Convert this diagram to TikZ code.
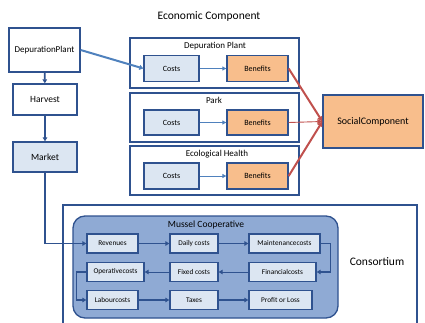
\documentclass[tikz,border=0pt]{standalone}
\usepackage{fontspec}
\setmainfont{Carlito}
\usetikzlibrary{arrows.meta}
\definecolor{bdr}{RGB}{47,82,143}
\definecolor{lfill}{RGB}{220,230,242}
\definecolor{ofill}{RGB}{248,190,140}
\definecolor{mfill}{RGB}{143,170,212}
\definecolor{redl}{RGB}{192,80,77}
\definecolor{bluel}{RGB}{79,129,189}
\tikzset{
  box/.style={draw=bdr, line width=1.3pt, inner sep=0pt, align=center, font=\fontsize{9.5}{10}\selectfont},
  grp/.style={draw=bdr, line width=1.3pt, inner sep=0pt},
  glabel/.style={font=\fontsize{9}{10}\selectfont},
  small/.style={draw=bdr, line width=1.3pt, fill=lfill, inner sep=0pt, minimum height=19pt, font=\fontsize{7.3}{8}\selectfont},
  econ/.style={draw=bdr, line width=1.3pt, inner sep=0pt, minimum height=26pt, font=\fontsize{8}{9}\selectfont},
  darr/.style={draw=bdr, line width=1.6pt, -{Triangle[length=4pt,width=4.5pt]}},
  thinarr/.style={draw=bdr, line width=0.9pt, -{Triangle[length=4pt,width=4.5pt]}},
  barr/.style={draw=bluel, line width=0.9pt, -{Triangle[length=4pt,width=4pt]}},
  rarr/.style={draw=redl, line width=2pt, -{Triangle[length=5pt,width=5pt]}},
}
\begin{document}
\begin{tikzpicture}[x=1pt,y=-1pt]
\useasboundingbox (0,0) rectangle (425,323);
% left column
\node[box, minimum width=71pt, minimum height=44pt, font=\fontsize{9}{10}\selectfont] (dp) at (44.5,50) {DepurationPlant};
\node[box, minimum width=64pt, minimum height=31pt] (harv) at (45,99.5) {Harvest};
\node[box, fill=lfill, minimum width=64pt, minimum height=30pt] (mkt) at (45,157) {Market};
% economic component
\node[font=\fontsize{11.5}{12}\selectfont] (ectitle) at (209,16) {Economic Component};
\node[grp, minimum width=169pt, minimum height=50pt] (g1) at (214.5,63) {};
\node[grp, minimum width=169pt, minimum height=49pt] (g2) at (214.5,117.5) {};
\node[grp, minimum width=169pt, minimum height=49pt] (g3) at (214.5,170.5) {};
\node[glabel] (l1) at (215,46) {Depuration Plant};
\node[glabel] (l2) at (214,100) {Park};
\node[glabel] (l3) at (217,154) {Ecological Health};
\node[econ, fill=lfill, minimum width=55pt] (c1) at (171.5,68.5) {Costs};
\node[econ, fill=lfill, minimum width=55pt, minimum height=25pt] (c2) at (171.5,122.5) {Costs};
\node[econ, fill=lfill, minimum width=55pt] (c3) at (171.5,176) {Costs};
\node[econ, fill=ofill, minimum width=61pt] (b1) at (257.5,68.5) {Benefits};
\node[econ, fill=ofill, minimum width=61pt, minimum height=25pt] (b2) at (257.5,122.5) {Benefits};
\node[econ, fill=ofill, minimum width=61pt] (b3) at (257.5,176) {Benefits};
\node[box, fill=ofill, minimum width=100pt, minimum height=53pt, font=\fontsize{10}{11}\selectfont] (soc) at (373,121.5) {SocialComponent};
% consortium
\coordinate (cbl) at (63,330);
\coordinate (ctl) at (63,205);
\coordinate (ctr) at (417,205);
\coordinate (cbr) at (417,330);
\draw[bdr, line width=1.3pt] (cbl) -- (ctl) -- (ctr) -- (cbr);
\node[font=\fontsize{11.5}{12}\selectfont] (cons) at (377,262) {Consortium};
\node[draw=bdr, line width=1.3pt, fill=mfill, rounded corners=12pt, minimum width=265pt, minimum height=102pt, inner sep=0pt] (mc) at (205.5,267) {};
\node[font=\fontsize{9.5}{10}\selectfont] (mcl) at (206,225) {Mussel Cooperative};
\node[small, minimum width=51pt] (rev) at (112.5,243.5) {Revenues};
\node[small, minimum width=48pt] (daily) at (194,243.5) {Daily costs};
\node[small, minimum width=71pt] (maint) at (284.5,243.5) {Maintenancecosts};
\node[small, minimum width=57pt] (oper) at (115.5,272) {Operativecosts};
\node[small, minimum width=48pt] (fixed) at (194,272) {Fixed costs};
\node[small, minimum width=67pt] (fin) at (282.5,272) {Financialcosts};
\node[small, minimum width=51pt] (lab) at (112.5,300) {Labourcosts};
\node[small, minimum width=48pt] (tax) at (194,300) {Taxes};
\node[small, minimum width=63pt] (prof) at (280.5,300) {Profit or Loss};
% connectors
\draw[darr] (dp) -- (harv);
\draw[darr] (harv) -- (mkt);
\draw[draw=bluel, line width=2pt, -{Triangle[length=4pt,width=5pt]}] (dp.east |- 0,50) -- (c1.west);
\draw[barr] (c1) -- (b1);
\draw[barr] (c2) -- (b2);
\draw[barr] (c3) -- (b3);
\draw[rarr] (b1.east) -- (soc.west);
\draw[redl, line width=0.9pt, -{Triangle[length=5pt,width=5pt]}] (b2.east) -- (soc.west);
\draw[rarr] (b3.east) -- (soc.west);
\draw[darr] (mkt.south) -- (45,243.5) -- (rev.west);
\draw[darr] (rev) -- (daily);
\draw[darr] (daily) -- (maint);
\draw[darr] (maint.east) -- ++(10,0) |- (fin.east);
\draw[thinarr] (fin) -- (fixed);
\draw[thinarr] (fixed) -- (oper);
\draw[darr] (oper.west) -- ++(-10,0) |- (lab.west);
\draw[darr] (lab) -- (tax);
\draw[darr] (tax) -- (prof);
\end{tikzpicture}
\end{document}
